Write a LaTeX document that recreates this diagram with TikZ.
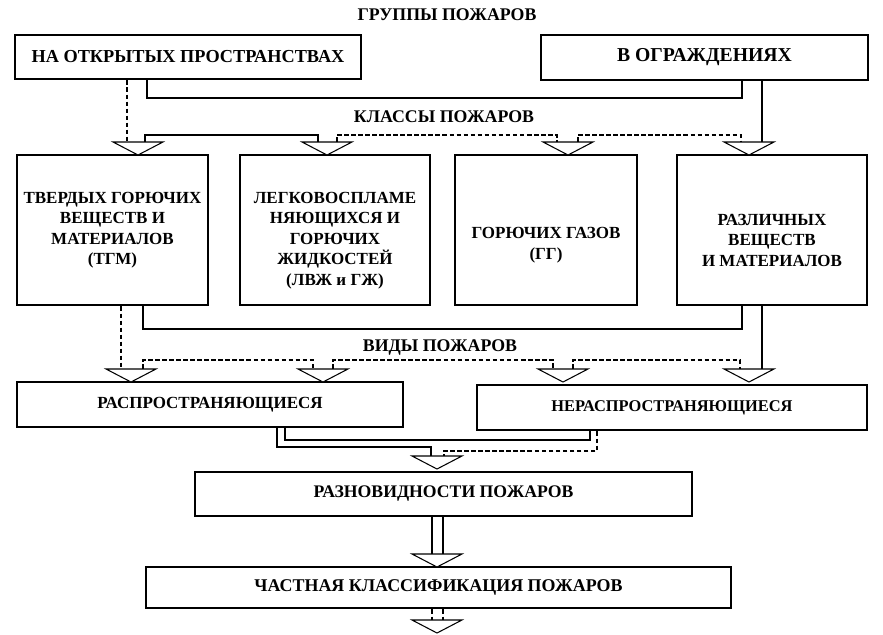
\documentclass[tikz,border=0pt]{standalone}
\usepackage{fontspec}
\setmainfont{Liberation Serif}
\newcommand{\lowered}[2]{\raisebox{-#1}[\height][\depth]{\begin{tabular}{@{}c@{}}#2\end{tabular}}}
\newcommand{\fs}[1]{\fontsize{#1}{17.5}\selectfont\bfseries}
\tikzset{
  box/.style={draw, line width=2.5pt, inner sep=0pt, align=center, font=\fs{14.5}},
  lbl/.style={font=\fs{15.2}},
  link/.style={line width=0.9pt},
  dash line/.style={link, dash pattern=on 4pt off 2pt},
  hollow/.style={draw, fill=white, line width=0.9pt, line join=miter}
}
\begin{document}
\begin{tikzpicture}[x=0.03cm, y=-0.03cm]
  \useasboundingbox (0,0) rectangle (883,635);

  % groups
  \node[lbl] (ttl) at (447,15) {ГРУППЫ ПОЖАРОВ};
  \node[box, font=\fs{15.6}, minimum width=10.38cm, minimum height=1.32cm] (gA) at (188,57)
    {НА ОТКРЫТЫХ ПРОСТРАНСТВАХ};
  \node[box, font=\fs{16.8}, minimum width=9.81cm, minimum height=1.35cm] (gB) at (704.5,57.5)
    {В ОГРАЖДЕНИЯХ};

  % classes
  \node[lbl] (lblK) at (444,117) {КЛАССЫ ПОЖАРОВ};
  \node[box, minimum width=5.73cm, minimum height=4.5cm] (C1) at (112.5,230)
    {ТВЕРДЫХ ГОРЮЧИХ\\ВЕЩЕСТВ И\\МАТЕРИАЛОВ\\(ТГМ)};
  \node[box, minimum width=5.7cm, minimum height=4.5cm] (C2) at (335,230)
    {\lowered{0.3cm}{ЛЕГКОВОСПЛАМЕ\\НЯЮЩИХСЯ И\\ГОРЮЧИХ\\ЖИДКОСТЕЙ\\(ЛВЖ и ГЖ)}};
  \node[box, minimum width=5.46cm, minimum height=4.5cm] (C3) at (546,230)
    {\lowered{0.44cm}{ГОРЮЧИХ ГАЗОВ\\(ГГ)}};
  \node[box, minimum width=5.7cm, minimum height=4.5cm] (C4) at (772,230)
    {\lowered{0.35cm}{РАЗЛИЧНЫХ\\ВЕЩЕСТВ\\И МАТЕРИАЛОВ}};

  % kinds
  \node[lbl] (lblV) at (440,347) {ВИДЫ ПОЖАРОВ};
  \node[box, minimum width=11.58cm, minimum height=1.35cm] (R) at (210,404.5)
    {РАСПРОСТРАНЯЮЩИЕСЯ};
  \node[box, font=\fs{14}, minimum width=11.7cm, minimum height=1.35cm] (N) at (672,407.5)
    {НЕРАСПРОСТРАНЯЮЩИЕСЯ};
  \node[box, font=\fs{15.1}, minimum width=14.91cm, minimum height=1.32cm] (RP) at (443.5,494)
    {РАЗНОВИДНОСТИ ПОЖАРОВ};
  \node[box, font=\fs{15.3}, minimum width=17.55cm, minimum height=1.23cm] (CK) at (438.5,587.5)
    {ЧАСТНАЯ КЛАССИФИКАЦИЯ ПОЖАРОВ};

  % arrow heads (top middle)
  \coordinate (k1) at (138,142);
  \coordinate (k2) at (327,142);
  \coordinate (k3) at (568,142);
  \coordinate (k4) at (749,142);
  \coordinate (v1) at (131,369);
  \coordinate (v2) at (323,369);
  \coordinate (v3) at (563,369);
  \coordinate (v4) at (749,369);
  \coordinate (r1) at (437,456);
  \coordinate (c1) at (437,554);
  \coordinate (e1) at (437,620);

  % groups -> classes
  \draw[dash line] (gA.south -| 127,0) -- (k1 -| 127,0);
  \draw[link] (gA.south -| 147,0) -- (147,98) -| (gB.south -| 742,0);
  \draw[link] (gB.south -| 762,0) -- (k4 -| 762,0);
  \draw[link] (k1 -| 145,0) |- (318,135) -- (k2 -| 318,0);
  \draw[dash line] (k2 -| 337,0) |- (557,135) -- (k3 -| 557,0);
  \draw[dash line] (k3 -| 578,0) |- (741,135) -- (k4 -| 741,0);

  % classes -> kinds
  \draw[dash line] (C1.south -| 121,0) -- (v1 -| 121,0);
  \draw[link] (C1.south -| 143,0) -- (143,329) -| (C4.south -| 742,0);
  \draw[link] (C4.south -| 762,0) -- (v4 -| 762,0);
  \draw[dash line] (v1 -| 143,0) |- (313,360) -- (v2 -| 313,0);
  \draw[dash line] (v2 -| 333,0) |- (553,360) -- (v3 -| 553,0);
  \draw[dash line] (v3 -| 573,0) |- (740,360) -- (v4 -| 740,0);

  % kinds -> varieties
  \draw[link] (R.south -| 285,0) -- (285,440) -| (N.south -| 590,0);
  \draw[link] (R.south -| 277,0) -- (277,447) -| (r1 -| 431,0);
  \draw[dash line] (N.south -| 597,0) -- (597,451) -| (r1 -| 444,0);

  % varieties -> private classification -> ...
  \foreach \xx in {432,443}{
    \draw[link] (RP.south -| \xx,0) -- (c1 -| \xx,0);
    \draw[dash line] (CK.south -| \xx,0) -- (e1 -| \xx,0);
  }

  \foreach \t in {k1,k2,k3,k4,v1,v2,v3,v4,r1,c1,e1}{
    \draw[hollow] (\t) ++(-25,0) -- ++(50,0) -- ++(-25,13) -- cycle;
  }
\end{tikzpicture}
\end{document}
